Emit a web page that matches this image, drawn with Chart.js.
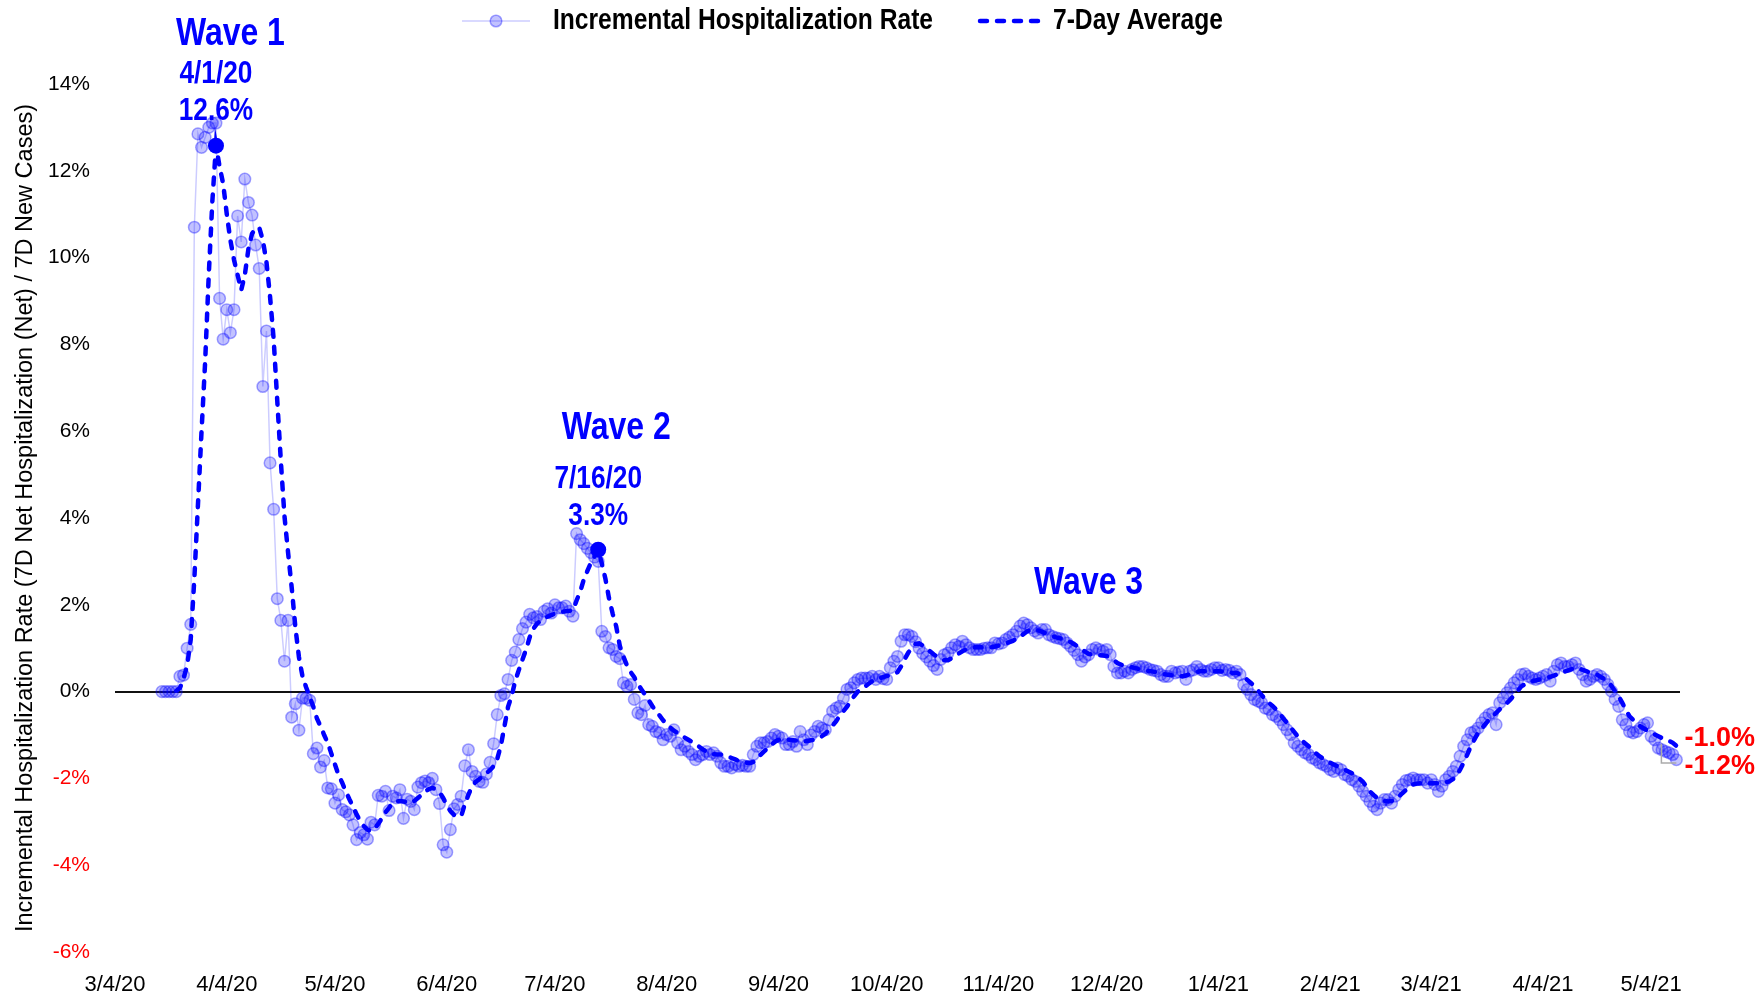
<!DOCTYPE html>
<html>
<head>
<meta charset="utf-8">
<title>Incremental Hospitalization Rate</title>
<script src="https://cdn.jsdelivr.net/npm/chart.js@4.4.1/dist/chart.umd.min.js"></script>
<style>
  html, body { margin: 0; padding: 0; background: #fff; }
</style>
</head>
<body>
<canvas id="grafica-hosp" width="1764" height="996"></canvas>
<script>
// Rango del eje x (una categoria por dia)
var FIRST_DAY = new Date(2020, 2, 4);   // 3/4/20
var LAST_DAY = new Date(2021, 4, 12);   // 5/12/21

// Tasa diaria (%), desde 3/17/20
var DAILY_START = '3/17/20';
var dailyRate = [
    0, 0, 0, 0, 0, 0.35, 0.38, 1.0, 1.55, 10.7,
    12.85, 12.54, 12.77, 13.0, 13.1, 13.1, 9.06, 8.12, 8.8, 8.27,
    8.8, 10.96, 10.36, 11.81, 11.27, 10.98, 10.29, 9.75, 7.03, 8.31,
    5.27, 4.2, 2.14, 1.64, 0.7, 1.64, -0.59, -0.28, -0.89, -0.15,
    -0.15, -0.2, -1.43, -1.3, -1.74, -1.59, -2.22, -2.24, -2.57, -2.38,
    -2.72, -2.77, -2.84, -3.07, -3.41, -3.25, -3.3, -3.4, -3.01, -3.07,
    -2.39, -2.41, -2.3, -2.74, -2.41, -2.45, -2.26, -2.92, -2.48, -2.53,
    -2.72, -2.2, -2.1, -2.06, -2.1, -2.0, -2.26, -2.58, -3.53, -3.7,
    -3.18, -2.7, -2.6, -2.41, -1.71, -1.34, -1.84, -1.95, -2.07, -2.09,
    -1.9, -1.63, -1.2, -0.53, -0.09, -0.05, 0.28, 0.72, 0.91, 1.2,
    1.45, 1.6, 1.78, 1.7, 1.73, 1.66, 1.85, 1.91, 1.81, 2.0,
    1.93, 1.93, 1.97, 1.85, 1.74, 3.64, 3.5, 3.41, 3.3, 3.2,
    3.1, 3.0, 1.39, 1.27, 1.01, 0.97, 0.81, 0.76, 0.2, 0.12,
    0.16, -0.18, -0.49, -0.53, -0.32, -0.76, -0.8, -0.92, -0.95, -1.11,
    -0.99, -1.03, -0.88, -1.18, -1.34, -1.26, -1.38, -1.45, -1.57, -1.49,
    -1.45, -1.38, -1.45, -1.41, -1.49, -1.64, -1.72, -1.72, -1.76, -1.68,
    -1.72, -1.7, -1.72, -1.72, -1.45, -1.26, -1.18, -1.18, -1.15, -1.07,
    -0.99, -1.03, -1.07, -1.22, -1.22, -1.15, -1.26, -0.92, -1.11, -1.22,
    -1.0, -0.92, -0.8, -0.84, -0.88, -0.65, -0.45, -0.38, -0.34, -0.15,
    0.05, 0.09, 0.2, 0.28, 0.31, 0.31, 0.31, 0.35, 0.28, 0.35,
    0.3, 0.28, 0.55, 0.7, 0.81, 1.16, 1.31, 1.31, 1.27, 1.15,
    1.0, 0.88, 0.8, 0.7, 0.6, 0.51, 0.74, 0.85, 0.89, 1.01,
    1.08, 1.04, 1.16, 1.08, 1.01, 0.97, 0.97, 0.97, 1.0, 1.01,
    1.01, 1.12, 1.1, 1.12, 1.2, 1.25, 1.31, 1.39, 1.51, 1.58,
    1.54, 1.47, 1.4, 1.35, 1.43, 1.43, 1.31, 1.27, 1.24, 1.22,
    1.2, 1.12, 1.04, 0.95, 0.85, 0.7, 0.8, 0.85, 0.97, 1.01,
    0.97, 0.93, 0.97, 0.85, 0.58, 0.43, 0.43, 0.47, 0.43, 0.51,
    0.55, 0.58, 0.58, 0.55, 0.51, 0.49, 0.47, 0.39, 0.35, 0.35,
    0.47, 0.43, 0.45, 0.47, 0.28, 0.47, 0.5, 0.58, 0.51, 0.47,
    0.47, 0.51, 0.55, 0.55, 0.49, 0.51, 0.49, 0.43, 0.47, 0.39,
    0.16, 0.05, -0.07, -0.18, -0.22, -0.26, -0.38, -0.41, -0.53, -0.57,
    -0.65, -0.76, -0.88, -0.99, -1.18, -1.26, -1.34, -1.41, -1.45, -1.53,
    -1.57, -1.64, -1.68, -1.72, -1.8, -1.84, -1.76, -1.8, -1.91, -1.95,
    -2.03, -2.07, -2.18, -2.3, -2.41, -2.53, -2.64, -2.72, -2.57, -2.49,
    -2.49, -2.57, -2.41, -2.26, -2.14, -2.05, -2.03, -1.99, -2.03, -2.03,
    -2.03, -2.11, -2.03, -2.14, -2.3, -2.18, -2.03, -1.95, -1.84, -1.72,
    -1.49, -1.26, -1.11, -0.95, -0.92, -0.84, -0.72, -0.61, -0.53, -0.49,
    -0.76, -0.26, -0.15, -0.03, 0.08, 0.2, 0.28, 0.39, 0.41, 0.35,
    0.31, 0.28, 0.31, 0.35, 0.39, 0.24, 0.47, 0.62, 0.66, 0.58,
    0.58, 0.62, 0.66, 0.51, 0.39, 0.24, 0.28, 0.35, 0.39, 0.35,
    0.28, 0.16, 0.01, -0.18, -0.34, -0.65, -0.76, -0.92, -0.95, -0.92,
    -0.84, -0.76, -0.72, -1.03, -1.11, -1.3, -1.34, -1.38, -1.41, -1.45,
    -1.57
];

// Promedio de 7 dias (%), desde 3/21/20
var AVG_START = '3/21/20';
var avgRate = [
    0.02, 0.08, 0.3, 0.6, 1.2, 2.6, 4.3, 6.0, 7.6, 9.6,
    11.3, 12.58, 12.1, 11.7, 11.0, 10.4, 9.95, 9.6, 9.25, 9.6,
    10.2, 10.55, 10.68, 10.69, 10.4, 9.9, 9.1, 8.12, 6.7, 5.3,
    4.04, 3.2, 2.4, 1.5, 0.8, 0.35, 0.1, -0.12, -0.35, -0.62,
    -0.8, -1.0, -1.18, -1.43, -1.68, -1.92, -2.1, -2.3, -2.48, -2.65,
    -2.83, -2.98, -3.1, -3.18, -3.22, -3.15, -3.05, -2.92, -2.78, -2.68,
    -2.56, -2.53, -2.52, -2.53, -2.55, -2.57, -2.52, -2.45, -2.38, -2.3,
    -2.25, -2.22, -2.25, -2.32, -2.45, -2.62, -2.75, -2.84, -2.88, -2.87,
    -2.6, -2.38, -2.18, -2.08, -2.02, -1.95, -1.88, -1.81, -1.72, -1.55,
    -1.25, -0.8, -0.35, -0.1, 0.25, 0.5, 0.74, 0.97, 1.25, 1.45,
    1.56, 1.63, 1.68, 1.73, 1.76, 1.8, 1.82, 1.84, 1.85, 1.86,
    1.87, 2.1, 2.3, 2.58, 2.78, 2.97, 3.12, 3.27, 2.95, 2.6,
    2.15, 1.8, 1.5, 1.05, 0.8, 0.6, 0.45, 0.33, 0.17, 0.05,
    -0.07, -0.2, -0.33, -0.45, -0.55, -0.66, -0.75, -0.83, -0.9, -0.95,
    -1.0, -1.06, -1.11, -1.16, -1.21, -1.27, -1.33, -1.38, -1.42, -1.44,
    -1.45, -1.45, -1.47, -1.5, -1.53, -1.56, -1.6, -1.63, -1.64, -1.65,
    -1.62, -1.55, -1.46, -1.38, -1.3, -1.22, -1.16, -1.11, -1.1, -1.1,
    -1.11, -1.12, -1.13, -1.14, -1.15, -1.14, -1.12, -1.11, -1.07, -1.03,
    -0.97, -0.88, -0.78, -0.68, -0.55, -0.45, -0.35, -0.22, -0.1, 0.0,
    0.07, 0.12, 0.18, 0.24, 0.28, 0.31, 0.33, 0.36, 0.38, 0.4,
    0.45, 0.58, 0.75, 0.9, 1.0, 1.1, 1.11, 1.06, 1.0, 0.93,
    0.86, 0.8, 0.75, 0.72, 0.72, 0.77, 0.83, 0.88, 0.93, 0.97,
    1.0, 1.02, 1.03, 1.02, 1.02, 1.01, 1.02, 1.04, 1.06, 1.08,
    1.11, 1.14, 1.17, 1.21, 1.27, 1.33, 1.39, 1.43, 1.43, 1.41,
    1.38, 1.35, 1.32, 1.28, 1.25, 1.23, 1.21, 1.19, 1.14, 1.09,
    1.04, 0.98, 0.92, 0.87, 0.85, 0.84, 0.84, 0.83, 0.82, 0.78,
    0.72, 0.66, 0.62, 0.6, 0.58, 0.56, 0.54, 0.52, 0.5, 0.48,
    0.47, 0.46, 0.44, 0.42, 0.4, 0.39, 0.38, 0.37, 0.36, 0.35,
    0.37, 0.4, 0.43, 0.45, 0.47, 0.47, 0.47, 0.47, 0.47, 0.47,
    0.46, 0.45, 0.44, 0.43, 0.43, 0.4, 0.35, 0.27, 0.2, 0.12,
    0.02, -0.08, -0.18, -0.26, -0.33, -0.41, -0.51, -0.62, -0.72, -0.82,
    -0.93, -1.03, -1.11, -1.19, -1.26, -1.34, -1.42, -1.49, -1.54, -1.59,
    -1.64, -1.68, -1.72, -1.76, -1.8, -1.84, -1.88, -1.94, -2.0, -2.07,
    -2.18, -2.3, -2.38, -2.45, -2.49, -2.52, -2.53, -2.52, -2.49, -2.42,
    -2.34, -2.27, -2.2, -2.14, -2.12, -2.11, -2.11, -2.11, -2.11, -2.11,
    -2.11, -2.1, -2.09, -2.07, -2.02, -1.95, -1.8, -1.64, -1.45, -1.26,
    -1.1, -0.95, -0.85, -0.75, -0.65, -0.57, -0.49, -0.41, -0.33, -0.26,
    -0.18, -0.08, 0.02, 0.12, 0.17, 0.21, 0.24, 0.26, 0.28, 0.3,
    0.31, 0.34, 0.37, 0.4, 0.43, 0.46, 0.49, 0.52, 0.55, 0.53,
    0.5, 0.47, 0.44, 0.42, 0.39, 0.34, 0.29, 0.24, 0.13, 0.01,
    -0.11, -0.26, -0.42, -0.57, -0.65, -0.73, -0.8, -0.85, -0.9, -0.95,
    -0.99, -1.03, -1.07, -1.11, -1.14, -1.18, -1.25
];

var yTicks = { min: -6, max: 14, step: 2 };

// Picos marcados sobre el promedio
var peaks = [
    { date: '4/1/20', text: '12.6%' },
    { date: '7/16/20', text: '3.3%' }
];
// Titulos de cada ola (fecha y valor donde se centran)
var waveLabels = [
    { text: 'Wave 1', date: '4/5/20', value: 15.15 },
    { text: 'Wave 2', date: '7/21/20', value: 6.07 },
    { text: 'Wave 3', date: '11/29/20', value: 2.5 }
];
var endLabels = ['-1.0%', '-1.2%'];

// Etiquetas diarias M/D/YY
var labels = [];
for (var d = new Date(FIRST_DAY); d <= LAST_DAY; d.setDate(d.getDate() + 1)) {
    labels.push((d.getMonth() + 1) + '/' + d.getDate() + '/' + String(d.getFullYear()).slice(2));
}

function pad(start, values) {
    var i = labels.indexOf(start);
    return new Array(i).fill(null).concat(values);
}

var peakIdx = peaks.map(function (p) { return labels.indexOf(p.date); });

var SANS = '"Liberation Sans", Arial, sans-serif';

// texto "estrecho": Liberation Sans comprimido en horizontal
function narrowText(ctx, text, x, y) {
    ctx.save();
    ctx.translate(x, y);
    ctx.scale(0.82, 1);
    ctx.fillText(text, 0, 0);
    ctx.restore();
}

var datos = {
    labels: labels,
    datasets: [{
        label: '7-Day Average',
        data: pad(AVG_START, avgRate),
        borderColor: '#0000ff',
        borderWidth: 4.5,
        borderDash: [7, 10],
        borderCapStyle: 'round',
        pointRadius: function (c) { return peakIdx.indexOf(c.dataIndex) >= 0 ? 8 : 0; },
        pointBackgroundColor: '#0000ff',
        pointBorderWidth: 0,
        tension: 0,
        order: 0
    },
    {
        label: 'Incremental Hospitalization Rate',
        data: pad(DAILY_START, dailyRate),
        borderColor: 'rgba(0, 0, 255, 0.2)',
        borderWidth: 1.5,
        pointRadius: 5.8,
        pointBackgroundColor: 'rgba(0, 0, 255, 0.24)',
        pointBorderColor: 'rgba(0, 0, 255, 0.36)',
        pointBorderWidth: 1.5,
        tension: 0,
        order: 1
    }]
};

// Leyenda, etiquetas de olas y valores finales
var anotaciones = {
    id: 'anotaciones',
    afterDraw: function (chart) {
        var ctx = chart.ctx;
        var xs = chart.scales.x, ys = chart.scales.y;
        var ds = chart.data.datasets;
        ctx.save();
        ctx.textBaseline = 'middle';

        // leyenda
        var ly = 21;
        ctx.strokeStyle = 'rgba(0, 0, 255, 0.2)';
        ctx.lineWidth = 1.5;
        ctx.beginPath(); ctx.moveTo(462, ly); ctx.lineTo(530, ly); ctx.stroke();
        ctx.beginPath(); ctx.arc(496, ly, 5.8, 0, Math.PI * 2);
        ctx.fillStyle = 'rgba(0, 0, 255, 0.24)'; ctx.fill();
        ctx.strokeStyle = 'rgba(0, 0, 255, 0.36)'; ctx.stroke();
        ctx.strokeStyle = '#0000ff';
        ctx.lineWidth = 4.5;
        ctx.lineCap = 'round';
        ctx.setLineDash([7, 10]);
        ctx.beginPath(); ctx.moveTo(980, ly); ctx.lineTo(1044, ly); ctx.stroke();
        ctx.setLineDash([]);
        ctx.lineCap = 'butt';
        ctx.fillStyle = '#000';
        ctx.font = 'bold 30px ' + SANS;
        ctx.textAlign = 'left';
        narrowText(ctx, ds[1].label, 553, ly);
        narrowText(ctx, ds[0].label, 1053, ly);

        // fecha y valor de cada pico
        var meta = chart.getDatasetMeta(0);
        ctx.fillStyle = '#0000ff';
        ctx.textAlign = 'center';
        ctx.font = 'bold 32px ' + SANS;
        peaks.forEach(function (p, i) {
            var pt = meta.data[peakIdx[i]];
            narrowText(ctx, p.text, pt.x, pt.y - 34);
            narrowText(ctx, p.date, pt.x, pt.y - 71);
        });
        ctx.font = 'bold 39px ' + SANS;
        waveLabels.forEach(function (w) {
            narrowText(ctx, w.text, xs.getPixelForValue(labels.indexOf(w.date)), ys.getPixelForValue(w.value));
        });

        // valores finales
        var last = meta.data[meta.data.length - 1];
        var y1 = ys.getPixelForValue(-1.0) + 4;
        var y2 = y1 + 28;
        ctx.strokeStyle = '#aaaaaa';
        ctx.lineWidth = 1.5;
        ctx.beginPath();
        ctx.moveTo(last.x - 15, ys.getPixelForValue(-1.2));
        ctx.lineTo(last.x - 15, y2 - 4);
        ctx.lineTo(last.x, y2 - 4);
        ctx.stroke();
        ctx.fillStyle = '#ff0000';
        ctx.font = 'bold 27px ' + SANS;
        ctx.textAlign = 'left';
        ctx.fillText(endLabels[0], last.x + 8, y1);
        ctx.fillText(endLabels[1], last.x + 8, y2);
        ctx.restore();
    }
};

var opciones = {
    responsive: false,
    animation: false,
    events: [],
    layout: { padding: { top: 84, right: 84, left: 0, bottom: 0 } },
    plugins: {
        legend: { display: false },
        tooltip: { enabled: false }
    },
    scales: {
        x: {
            offset: false,
            grid: { display: false },
            border: { display: false },
            afterFit: function (s) { s.height = 44; },
            ticks: {
                autoSkip: false,
                maxRotation: 0,
                minRotation: 0,
                padding: 12,
                color: '#000',
                font: { family: SANS, size: 22 },
                callback: function (value) {
                    var l = this.getLabelForValue(value);
                    return l.split('/')[1] === '4' ? l : '';
                }
            }
        },
        y: {
            min: yTicks.min,
            max: yTicks.max,
            afterFit: function (s) { s.width = 115; },
            border: { display: false },
            grid: {
                drawTicks: false,
                lineWidth: 2,
                color: function (c) { return c.tick.value === 0 ? '#111' : 'rgba(0,0,0,0)'; }
            },
            ticks: {
                stepSize: yTicks.step,
                padding: 25,
                font: { family: SANS, size: 21 },
                color: function (c) { return c.tick.value < 0 ? '#ff0000' : '#000'; },
                callback: function (v) { return v + '%'; }
            },
            title: {
                display: true,
                text: 'Incremental Hospitalization Rate (7D Net Hospitalization (Net) / 7D New Cases)',
                color: '#000',
                font: { family: SANS, size: 23.5 },
                padding: { top: 11, bottom: 0 }
            }
        }
    }
};

var ctx = document.getElementById('grafica-hosp').getContext('2d');
var grafica = new Chart(ctx, {
    type: 'line',
    data: datos,
    options: opciones,
    plugins: [anotaciones]
});
</script>
</body>
</html>
